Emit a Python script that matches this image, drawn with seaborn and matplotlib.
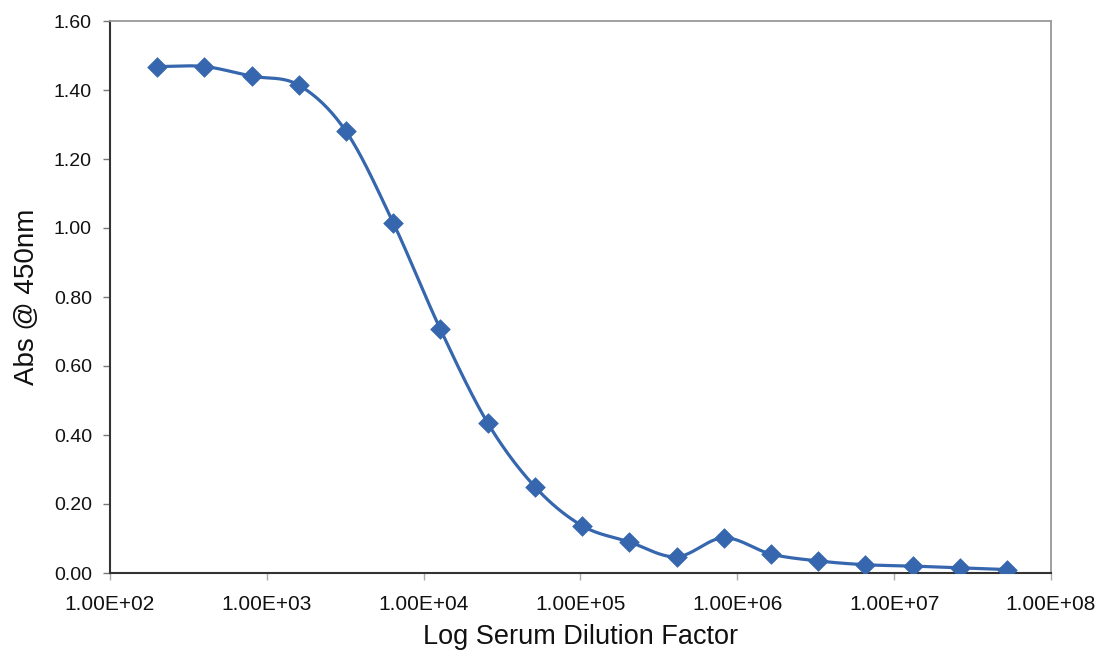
import numpy as np
import pandas as pd
import matplotlib
matplotlib.use("Agg")
import matplotlib.pyplot as plt
from matplotlib.ticker import FixedLocator, FuncFormatter, NullLocator
import seaborn as sns

# Serum dilution series (two-fold steps) and measured absorbance at 450 nm
dilution = [200, 400, 800, 1600, 3200, 6400, 12800, 25600, 51200, 102400,
            204800, 409600, 819200, 1638400, 3276800, 6553600, 13107200,
            26214400, 52428800]
absorbance = [1.468, 1.468, 1.440, 1.414, 1.280, 1.015, 0.706, 0.435, 0.250,
              0.137, 0.090, 0.047, 0.102, 0.055, 0.035, 0.024, 0.020, 0.015,
              0.010]
x_ticks = [1e2, 1e3, 1e4, 1e5, 1e6, 1e7, 1e8]
y_ticks = [0.0, 0.2, 0.4, 0.6, 0.8, 1.0, 1.2, 1.4, 1.6]

df = pd.DataFrame({"dilution": dilution, "abs450": absorbance})


def catmull_rom(xs, ys, n=30):
    """Smooth curve through the points (uniform Catmull-Rom spline)."""
    xs = np.asarray(xs, float)
    ys = np.asarray(ys, float)
    px = np.concatenate([[2 * xs[0] - xs[1]], xs, [2 * xs[-1] - xs[-2]]])
    py = np.concatenate([[2 * ys[0] - ys[1]], ys, [2 * ys[-1] - ys[-2]]])
    t = np.linspace(0, 1, n, endpoint=False)
    t2, t3 = t * t, t * t * t
    outx, outy = [], []
    for i in range(1, len(px) - 2):
        for p, out in ((px, outx), (py, outy)):
            p0, p1, p2, p3 = p[i - 1], p[i], p[i + 1], p[i + 2]
            out.append(0.5 * ((2 * p1) + (-p0 + p2) * t
                              + (2 * p0 - 5 * p1 + 4 * p2 - p3) * t2
                              + (-p0 + 3 * p1 - 3 * p2 + p3) * t3))
    outx.append([xs[-1]])
    outy.append([ys[-1]])
    return np.concatenate(outx), np.concatenate(outy)


lx, ly = catmull_rom(np.log10(df["dilution"]), df["abs450"])
curve = pd.DataFrame({"dilution": 10 ** lx, "abs450": ly})

sns.set_theme(style="white")
plt.rcParams["font.family"] = ["Liberation Sans", "DejaVu Sans"]

color = "#3667ae"
text_color = "#111111"
fig = plt.figure(figsize=(11.07, 6.59), dpi=100)
ax = fig.add_axes([110 / 1107, 1 - 573 / 659, (1051 - 110) / 1107, (573 - 21) / 659])

sns.lineplot(data=curve, x="dilution", y="abs450", ax=ax, color=color,
             linewidth=2.3, sort=False, estimator=None)
sns.scatterplot(data=df, x="dilution", y="abs450", ax=ax, color=color,
                marker="D", s=100, edgecolor=color, linewidth=0.5, zorder=3)

ax.set_xscale("log")
ax.set_xlim(1e2, 1e8)
ax.set_ylim(0, 1.6)
ax.xaxis.set_major_locator(FixedLocator(x_ticks))
ax.xaxis.set_minor_locator(NullLocator())
ax.xaxis.set_major_formatter(FuncFormatter(lambda v, p: f"{v:.2E}"))
ax.yaxis.set_major_locator(FixedLocator(y_ticks))
ax.yaxis.set_major_formatter(FuncFormatter(lambda v, p: f"{v:.2f}"))

ax.tick_params(axis="y", which="major", direction="out", length=5,
               width=1, color="#777777", labelsize=14, labelcolor=text_color,
               left=True, pad=8)
ax.tick_params(axis="x", which="major", direction="out", length=5,
               width=1, color="#aaaaaa", labelsize=15, labelcolor=text_color,
               bottom=True, pad=11)

for side in ("left", "bottom"):
    ax.spines[side].set_color("#333333")
    ax.spines[side].set_linewidth(1.5)
for side in ("top", "right"):
    ax.spines[side].set_color("#999999")
    ax.spines[side].set_linewidth(1.3)

ax.set_xlabel("Log Serum Dilution Factor", fontsize=19.5, color=text_color, labelpad=7)
ax.set_ylabel("Abs @ 450nm", fontsize=20, color=text_color, labelpad=10)

fig.savefig("out.png", dpi=100, facecolor="white")
